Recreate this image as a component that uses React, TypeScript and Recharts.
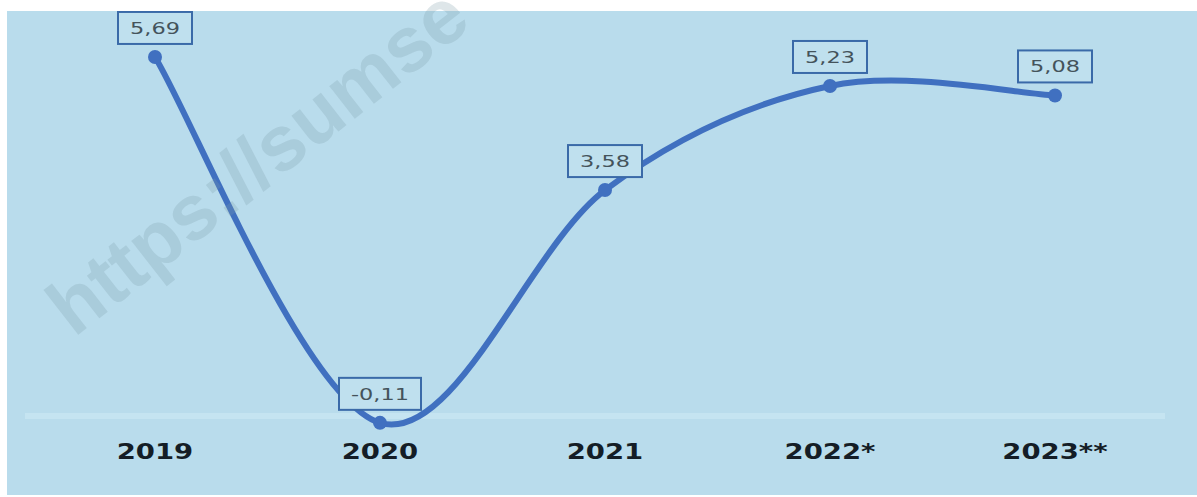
import { LineChart, Line, XAxis, YAxis, LabelList, ReferenceLine } from 'recharts';

const years = ['2019', '2020', '2021', '2022*', '2023**'];
const growth = [5.69, -0.11, 3.58, 5.23, 5.08];
const valueLabels = ['5,69', '-0,11', '3,58', '5,23', '5,08'];

const LINE = '#4070c0';
const PANEL = '#b9dcec';

// Excel-style smoothed line (Catmull-Rom through the points)
const smoothCurve = (context: any) => {
  let pts: number[][] = [];
  return {
    areaStart() {},
    areaEnd() {},
    lineStart() {
      pts = [];
    },
    point(x: number, y: number) {
      pts.push([+x, +y]);
    },
    lineEnd() {
      const n = pts.length;
      if (!n) return;
      context.moveTo(pts[0][0], pts[0][1]);
      const k = 1 / 6;
      for (let i = 0; i < n - 1; i++) {
        const p0 = pts[Math.max(i - 1, 0)];
        const p1 = pts[i];
        const p2 = pts[i + 1];
        const p3 = pts[Math.min(i + 2, n - 1)];
        context.bezierCurveTo(
          p1[0] + (p2[0] - p0[0]) * k,
          p1[1] + (p2[1] - p0[1]) * k,
          p2[0] - (p3[0] - p1[0]) * k,
          p2[1] - (p3[1] - p1[1]) * k,
          p2[0],
          p2[1]
        );
      }
    },
  };
};

const YearTick = ({ x, y, payload }: any) => (
  <text
    transform={`translate(${x},${y - 20}) scale(1.25,1)`}
    textAnchor="middle"
    fontFamily="DejaVu Sans"
    fontWeight="bold"
    fontSize={22}
    fill="#141d26"
  >
    {payload.value}
  </text>
);

const ValueBox = ({ x, y, value }: any) => {
  const txt = String(value);
  const w = 8 * txt.length + 42;
  const h = 32;
  const bottom = y - 13;
  return (
    <g>
      <rect x={x - w / 2} y={bottom - h} width={w} height={h} fill="#bfe0ee" stroke="#3a6aa8" strokeWidth={2} />
      <text
        transform={`translate(${x},${bottom - h / 2 + 6}) scale(1.4,1)`}
        textAnchor="middle"
        fontFamily="DejaVu Sans"
        fontSize={16}
        fill="#44535b"
      >
        {txt}
      </text>
    </g>
  );
};

export default function App() {
  const data = years.map((year, i) => ({ year, growth: growth[i], label: valueLabels[i] }));

  return (
    <div style={{ position: 'absolute', left: 0, top: 0, width: 1197, height: 497, background: '#fff', overflow: 'hidden' }}>
      <div style={{ position: 'absolute', left: 7, top: 11, width: 1190, height: 484, background: PANEL }}>
        <LineChart width={1190} height={484} data={data} margin={{ top: 26.4, right: 32, bottom: 0, left: 18 }}>
          <XAxis
            dataKey="year"
            scale="point"
            padding={{ left: 130, right: 110 }}
            axisLine={false}
            tickLine={false}
            tickSize={0}
            tickMargin={0}
            height={16}
            interval={0}
            tick={<YearTick />}
          />
          <YAxis hide domain={[-1, 6]} type="number" />
          <ReferenceLine y={0} stroke="#c5e4f1" strokeWidth={6} />
          <Line
            dataKey="growth"
            type={smoothCurve as any}
            stroke={LINE}
            strokeWidth={6}
            dot={{ r: 7, fill: LINE, stroke: LINE, strokeWidth: 0 }}
            activeDot={false}
            isAnimationActive={false}
          >
            <LabelList dataKey="label" content={<ValueBox />} />
          </Line>
        </LineChart>
      </div>
      <svg width={1197} height={497} style={{ position: 'absolute', left: 0, top: 0, pointerEvents: 'none' }}>
        <text
          transform="translate(74,338) rotate(-38)"
          fontFamily="Liberation Sans"
          fontWeight="bold"
          fontSize={78}
          fill="#7a9aa6"
          fillOpacity={0.25}
        >
          https://sumse
        </text>
      </svg>
    </div>
  );
}
